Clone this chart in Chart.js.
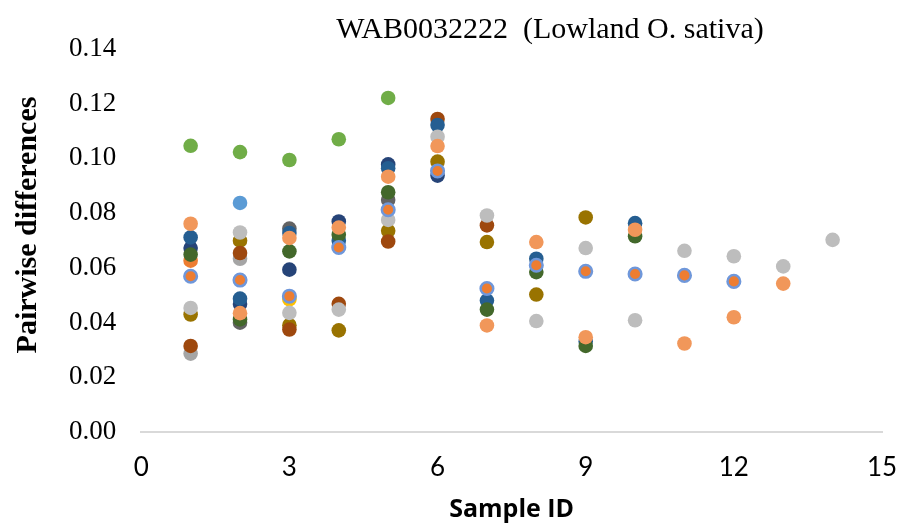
<!DOCTYPE html>
<html>
<head>
  <title>WAB0032222 (Lowland O. sativa)</title>
  <style>
    body {
      margin: 0;
      background: #fff;
    }
    #chartContainer {
      width: 899px;
      height: 527px;
    }
  </style>
</head>
<body>
  <div id="chartContainer">
    <canvas id="pairChart" width="899" height="527"></canvas>
  </div>

  <script src="https://cdn.jsdelivr.net/npm/chart.js"></script>
  <script>
    // sample IDs on the x axis, one value per series per sample (null = no point)
    const sampleIds = [1, 2, 3, 4, 5, 6, 7, 8, 9, 10, 11, 12, 13, 14];

    const ringSeries = [0.0569, 0.0555, 0.0496, 0.0674, 0.0812, 0.0954, 0.0524, 0.0609, 0.0587, 0.0577, 0.0572, 0.0550, null, null];
    const lightOrange = [0.0761, 0.0434, 0.0709, 0.0747, 0.0933, 0.1045, 0.0389, 0.0694, 0.0346, 0.0739, 0.0323, 0.0419, 0.0542, null];
    const lightGreen = [0.1046, 0.1023, 0.0994, 0.1070, 0.1221, null, null, null, null, null, null, null, null, null];
    const lightBlue = [null, 0.0837, null, null, null, null, null, null, null, null, null, null, null, null];
    const darkGreen = [0.0648, 0.0411, 0.0660, 0.0721, 0.0876, null, 0.0447, 0.0584, 0.0314, 0.0715, null, null, null, null];
    const lightGray = [0.0453, 0.0729, 0.0435, 0.0447, 0.0775, 0.1079, 0.0791, 0.0405, 0.0672, 0.0408, 0.0662, 0.0642, 0.0605, 0.0702];
    const blue = [0.0711, 0.0487, 0.0727, 0.0699, 0.0964, 0.1122, 0.0480, 0.0633, 0.0330, 0.0763, null, null, null, null];
    const brown = [0.0314, 0.0654, 0.0374, 0.0468, 0.0696, 0.1144, 0.0755, null, null, null, null, null, null, null];
    const gold = [0.0429, 0.0699, 0.0390, 0.0371, 0.0735, 0.0988, 0.0694, 0.0502, 0.0784, null, null, null, null, null];
    const darkBlue = [0.0672, 0.0467, 0.0593, 0.0769, 0.0978, 0.0937, null, null, null, null, null, null, null, null];
    const orange = [0.0626, null, null, null, null, null, null, null, null, null, null, null, null, null];
    const darkGray = [null, 0.0399, 0.0743, null, 0.0848, null, null, null, null, null, null, null, null, null];
    const gray = [0.0286, 0.0633, null, null, null, null, null, null, null, null, null, null, null, null];
    const yellow = [null, null, 0.0484, null, null, null, null, null, null, null, null, null, null, null];

    const xTicks = [0, 3, 6, 9, 12, 15];
    const yTicks = [0, 0.02, 0.04, 0.06, 0.08, 0.10, 0.12, 0.14];

    function toPoints(values) {
      return sampleIds
        .map((id, i) => ({ x: id, y: values[i] }))
        .filter(p => p.y !== null);
    }

    // first dataset is drawn on top
    const seriesList = [
      { label: 'ring', values: ringSeries, fill: '#ED7D31', border: '#6F97DA', width: 2.5 },
      { label: 'lightOrange', values: lightOrange, fill: '#F1975A' },
      { label: 'lightGreen', values: lightGreen, fill: '#70AD47' },
      { label: 'lightBlue', values: lightBlue, fill: '#5B9BD5' },
      { label: 'darkGreen', values: darkGreen, fill: '#43682B' },
      { label: 'lightGray', values: lightGray, fill: '#BDBDBD' },
      { label: 'blue', values: blue, fill: '#255E91' },
      { label: 'brown', values: brown, fill: '#9E480E' },
      { label: 'gold', values: gold, fill: '#997300' },
      { label: 'darkBlue', values: darkBlue, fill: '#264478' },
      { label: 'orange', values: orange, fill: '#ED7D31' },
      { label: 'darkGray', values: darkGray, fill: '#636363' },
      { label: 'gray', values: gray, fill: '#A5A5A5' },
      { label: 'yellow', values: yellow, fill: '#FFC000' }
    ];

    const datasets = seriesList.map(s => ({
      label: s.label,
      data: toPoints(s.values),
      backgroundColor: s.fill,
      borderColor: s.border || s.fill,
      borderWidth: s.width || 0,
      pointRadius: s.width ? 6.3 : 7.3,
      pointHoverRadius: 7
    }));

    // chart title and y title drawn off-centre like the original
    const titlePlugin = {
      id: 'offTitles',
      afterDraw(chart) {
        const c = chart.ctx;
        c.save();
        c.fillStyle = '#000';
        c.textAlign = 'center';
        c.textBaseline = 'middle';
        c.font = '30px "Liberation Serif", "Times New Roman", serif';
        c.fillText('WAB0032222  (Lowland O. sativa)', 550, 30);
        c.translate(28, 225);
        c.rotate(-Math.PI / 2);
        c.font = 'bold 30px "Liberation Serif", "Times New Roman", serif';
        c.fillText('Pairwise differences', 0, 0);
        c.restore();
      }
    };

    const ctx = document.getElementById('pairChart').getContext('2d');

    new Chart(ctx, {
      type: 'scatter',
      data: { datasets },
      options: {
        responsive: false,
        animation: false,
        layout: {
          padding: { top: 49, right: 0, bottom: 2, left: 52 }
        },
        plugins: {
          legend: { display: false },
          tooltip: { enabled: false }
        },
        scales: {
          x: {
            type: 'linear',
            min: 0,
            max: 15,
            afterBuildTicks: axis => { axis.ticks = xTicks.map(v => ({ value: v })); },
            afterFit: axis => { axis.paddingRight = 17; },
            grid: { display: false },
            border: { display: true, color: '#D9D9D9', width: 2 },
            ticks: {
              color: '#000',
              padding: 12,
              font: { family: 'Lato, "Open Sans", sans-serif', size: 26 }
            },
            title: {
              display: true,
              text: 'Sample ID',
              color: '#000',
              padding: { top: 0, bottom: 0 },
              font: { family: '"Open Sans", Lato, sans-serif', size: 25, weight: 'bold' }
            }
          },
          y: {
            min: 0,
            max: 0.14,
            afterBuildTicks: axis => { axis.ticks = yTicks.map(v => ({ value: v })); },
            grid: { display: false },
            border: { display: false },
            ticks: {
              color: '#000',
              padding: 17,
              font: { family: '"Liberation Serif", "Times New Roman", serif', size: 27 },
              callback: v => v.toFixed(2)
            },
            title: { display: false }
          }
        }
      },
      plugins: [titlePlugin]
    });
  </script>
</body>
</html>
